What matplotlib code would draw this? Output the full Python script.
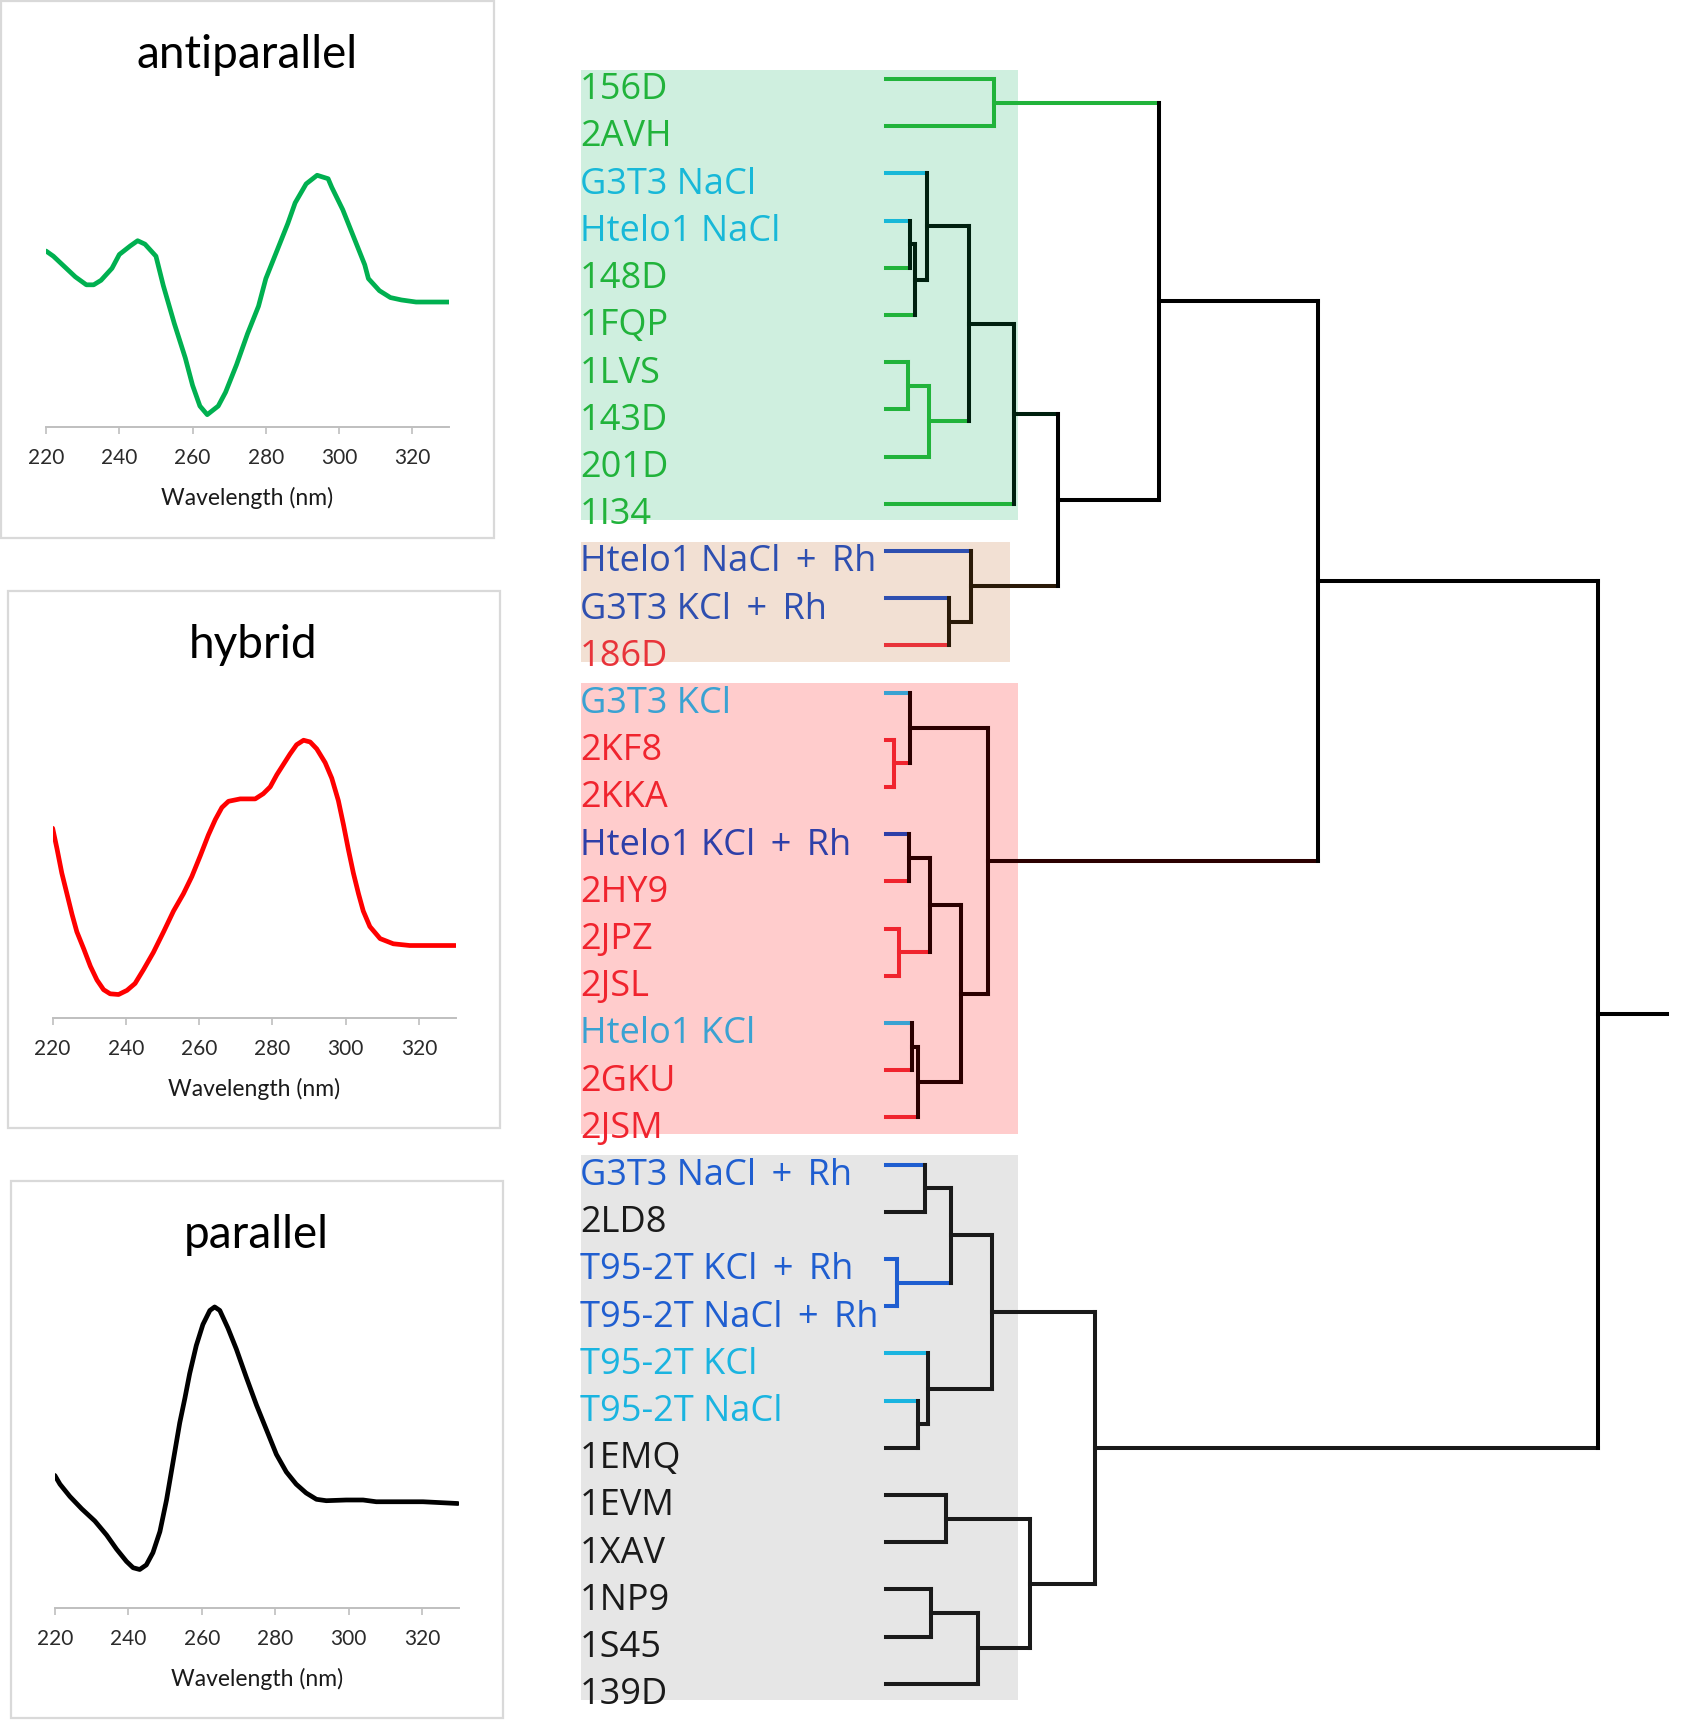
import matplotlib
matplotlib.use("Agg")
import matplotlib.pyplot as plt
from matplotlib.patches import Rectangle

# ---- CD spectra (arbitrary ellipticity units) ----
wl_anti = [220, 222, 225, 228, 231, 233, 235, 238, 240, 243, 245, 247, 250, 252, 255,
           258, 260, 262, 264, 267, 269, 272, 275, 278, 280, 283, 286, 288, 291, 294,
           297, 298, 301, 304, 307, 308, 311, 314, 317, 321, 326, 330]
cd_anti = [51, 49.5, 46.5, 43.5, 41.2, 41.2, 42.5, 46, 50, 52.5, 54, 53, 49.5, 41, 30,
           20, 12, 6, 3.5, 6, 10, 18, 27, 35, 43, 51, 59, 65, 70.5, 73,
           72, 69.5, 63, 55, 47, 43, 39.5, 37.5, 36.8, 36.2, 36.2, 36.2]

wl_hyb = [220, 221.2, 222.5, 223.9, 225.3, 226.6, 228.5, 230.3, 232.1, 233.9, 235.7, 238,
          240.3, 242.5, 244.8, 247.5, 250.3, 253, 255.7, 258, 260.3, 262.5, 264.4, 266.2,
          268, 271.2, 275.3, 277.5, 279.4, 281.2, 283, 284.8, 286.6, 288.5, 290.3, 292.1,
          294.4, 296.2, 298, 299.4, 300.7, 302.1, 303.5, 304.8, 306.6, 309.4, 313, 317.5,
          323.9, 330]
cd_hyb = [55, 49, 42, 36, 30, 25, 20, 15, 11, 8.2, 7, 6.8,
          8, 10, 14, 19, 25, 31, 36, 41, 47, 53, 57.5, 61,
          62.8, 63.5, 63.5, 65, 67, 70.5, 73.5, 76.5, 79.2, 80.5, 80, 78,
          74, 69.5, 63, 56, 49, 42, 36, 31, 26.5, 23, 21.5, 21,
          21, 21]

wl_par = [220, 221.4, 224.1, 227.3, 230.9, 234.1, 236.8, 239.5, 241.3, 243.1, 244.9, 246.7,
          248.6, 250.4, 252.2, 254, 255.4, 256.7, 258.5, 260.3, 262.2, 263.5, 264.9, 267.1,
          269.4, 272.1, 274.9, 277.6, 280.3, 283, 285.7, 288.4, 291.2, 293.9, 299.3, 303.9,
          307.5, 313.8, 320.2, 329.7]
cd_par = [37.8, 35.3, 31.8, 28.3, 24.8, 20.8, 16.8, 13.3, 11.5, 11, 12.3, 15.8,
          21.8, 30.8, 41.8, 52.8, 59.8, 66.8, 74.8, 80.8, 84.8, 85.8, 84.8, 79.8,
          73.8, 65.8, 57.8, 50.8, 43.8, 38.8, 35.3, 32.8, 31, 30.6, 30.8, 30.8,
          30.3, 30.3, 30.3, 29.8]

titles = ["antiparallel", "hybrid", "parallel"]
curve_colors = ["#00b050", "#ff0000", "#000000"]

# ---- dendrogram leaves (top to bottom) ----
leaves = ["156D", "2AVH", "G3T3 NaCl", "Htelo1 NaCl", "148D", "1FQP", "1LVS", "143D",
          "201D", "1I34", "Htelo1 NaCl \u2009+\u2009 Rh", "G3T3 KCl \u2009+\u2009 Rh", "186D",
          "G3T3 KCl", "2KF8", "2KKA", "Htelo1 KCl \u2009+\u2009 Rh", "2HY9", "2JPZ", "2JSL",
          "Htelo1 KCl", "2GKU", "2JSM", "G3T3 NaCl \u2009+\u2009 Rh", "2LD8",
          "T95-2T KCl \u2009+\u2009 Rh", "T95-2T NaCl \u2009+\u2009 Rh", "T95-2T KCl",
          "T95-2T NaCl", "1EMQ", "1EVM", "1XAV", "1NP9", "1S45", "139D"]

GR, CY, BL, BL2, BL3 = "#21b33b", "#18b8d8", "#2e4fb0", "#2e3fa8", "#1f5ed0"
RD, RD2, LB, TB, BK = "#f0242e", "#e8343a", "#3aa2d2", "#1ab4e0", "#1a1a1a"
leaf_colors = [GR, GR, CY, CY, GR, GR, GR, GR, GR, GR,
               BL, BL, RD2,
               LB, RD, RD, BL2, RD, RD, RD, LB, RD, RD,
               BL3, BK, BL3, BL3, TB, TB, BK, BK, BK, BK, BK, BK]

DG, BR, DR, DK, K = "#00200f", "#2a1a08", "#2b0000", "#1a1a1a", "#000000"
# merges: (child a, child b, height, colour); new node ids start at len(leaves)
merges = [
    (3, 4, 3.4, DG), (35, 5, 4.0, DG), (2, 36, 5.7, DG),
    (6, 7, 3.1, GR), (38, 8, 6.0, GR), (37, 39, 11.6, DG), (40, 9, 18.0, DG),
    (0, 1, 15.1, GR),
    (11, 12, 8.8, BR), (10, 43, 11.9, BR),
    (41, 44, 24.2, K), (42, 45, 38.4, K),
    (14, 15, 1.1, RD), (13, 47, 3.4, DR), (16, 17, 3.2, DR), (18, 19, 1.8, RD),
    (49, 50, 6.2, DR), (20, 21, 3.7, DR), (52, 22, 4.5, DR), (51, 53, 10.5, DR),
    (48, 54, 14.3, DR),
    (46, 55, 60.7, K),
    (23, 24, 5.5, DK), (25, 26, 1.5, BL3), (57, 58, 9.1, DK), (28, 29, 4.5, DK),
    (27, 60, 5.9, DK), (59, 61, 14.9, DK), (30, 31, 8.4, DK), (32, 33, 6.3, DK),
    (64, 34, 12.9, DK), (63, 65, 20.2, DK), (62, 66, 29.3, DK),
    (56, 67, 100.0, K),
]
root_tail = 109.7

# shaded groups: (first leaf, last leaf, colour)
groups = [(0, 9, "#cfefdf"), (10, 12, "#f2e0d3"), (13, 22, "#ffcccc"), (23, 34, "#e6e6e6")]
group_right = [18.5, 17.4, 18.5, 18.5]

# ---------------------------------------------------------------------------
fig = plt.figure(figsize=(17.01, 17.20), dpi=100)
W, H = 1551.0, 1568.0


def fx(x):
    return x / W


def fy(y):
    return 1 - y / H


# CD panels
boxes = [(1, 1, 450, 490), (7, 539, 456, 1028), (10, 1077, 459, 1566)]
ax_left = [42, 48, 50]
ax_width = [367.4, 367.4, 368.5]
spine_y = [389, 928, 1466]
ax_h = [314, 314.5, 320]
title_xy = [(225, 50), (231, 588), (234, 1126)]
spectra = [(wl_anti, cd_anti), (wl_hyb, cd_hyb), (wl_par, cd_par)]

for i in range(3):
    x0, y0, x1, y1 = boxes[i]
    fig.add_artist(Rectangle((fx(x0), fy(y1)), (x1 - x0) / W, (y1 - y0) / H,
                             transform=fig.transFigure, fill=False,
                             edgecolor="#d9d9d9", lw=1.6))
    ax = fig.add_axes([fx(ax_left[i]), fy(spine_y[i]), ax_width[i] / W, ax_h[i] / H])
    wl, cd = spectra[i]
    ax.plot(wl, cd, color=curve_colors[i], lw=3.4, solid_joinstyle="round",
            solid_capstyle="round")
    ax.set_xlim(220, 330)
    ax.set_ylim(0, 100)
    ax.set_xticks(range(220, 321, 20))
    ax.set_yticks([])
    for s in ["top", "right", "left"]:
        ax.spines[s].set_visible(False)
    ax.spines["bottom"].set_color("#bfbfbf")
    ax.spines["bottom"].set_linewidth(1.4)
    ax.tick_params(axis="x", colors="#bfbfbf", length=5, width=1.2, pad=10,
                   labelcolor="#2a2a2a", labelsize=15)
    for lab in ax.get_xticklabels():
        lab.set_family(["Lato", "DejaVu Sans"])
    ax.set_xlabel("Wavelength (nm)", fontsize=16.5, family=["Lato", "DejaVu Sans"],
                  color="#1a1a1a", labelpad=14)
    ax.patch.set_visible(False)
    fig.text(fx(title_xy[i][0]), fy(title_xy[i][1]), titles[i], ha="center", va="center",
             fontsize=33, family=["Lato", "DejaVu Sans"], color="#000000")

# dendrogram
dax = fig.add_axes([520 / W, 0, (1545 - 520) / W, (1568 - 40) / H])
dax.set_xlim(-44.38, 113.56)
dax.set_ylim(34.766, -0.744)
dax.axis("off")

label_x = -42.99
for (g0, g1, gc), gr in zip(groups, group_right):
    rect = Rectangle((-42.84, g0 - 0.2), gr + 42.84, (g1 - g0) + 0.55,
                     facecolor=gc, edgecolor="none", zorder=0)
    dax.add_patch(rect)
    for j in range(g0, g1 + 1):
        t = dax.text(label_x, j + 0.43, leaves[j], color=leaf_colors[j], fontsize=26,
                     family=["Open Sans", "DejaVu Sans"], ha="left", va="baseline",
                     zorder=2)
        t.set_clip_path(rect)

n = len(leaves)
node_x = [0.0] * n
node_y = [float(j) for j in range(n)]
node_c = list(leaf_colors)
LW = 2.9
for a, b, h, c in merges:
    for ch in (a, b):
        dax.plot([node_x[ch], h], [node_y[ch], node_y[ch]], color=node_c[ch], lw=LW,
                 solid_capstyle="projecting", zorder=3)
    dax.plot([h, h], [node_y[a], node_y[b]], color=c, lw=LW,
             solid_capstyle="projecting", zorder=4)
    node_x.append(h)
    node_y.append((node_y[a] + node_y[b]) / 2)
    node_c.append(c)

dax.plot([node_x[-1], root_tail], [node_y[-1], node_y[-1]], color=K, lw=LW,
         solid_capstyle="projecting", zorder=3)

fig.savefig("out.png", dpi=100, facecolor="white")
